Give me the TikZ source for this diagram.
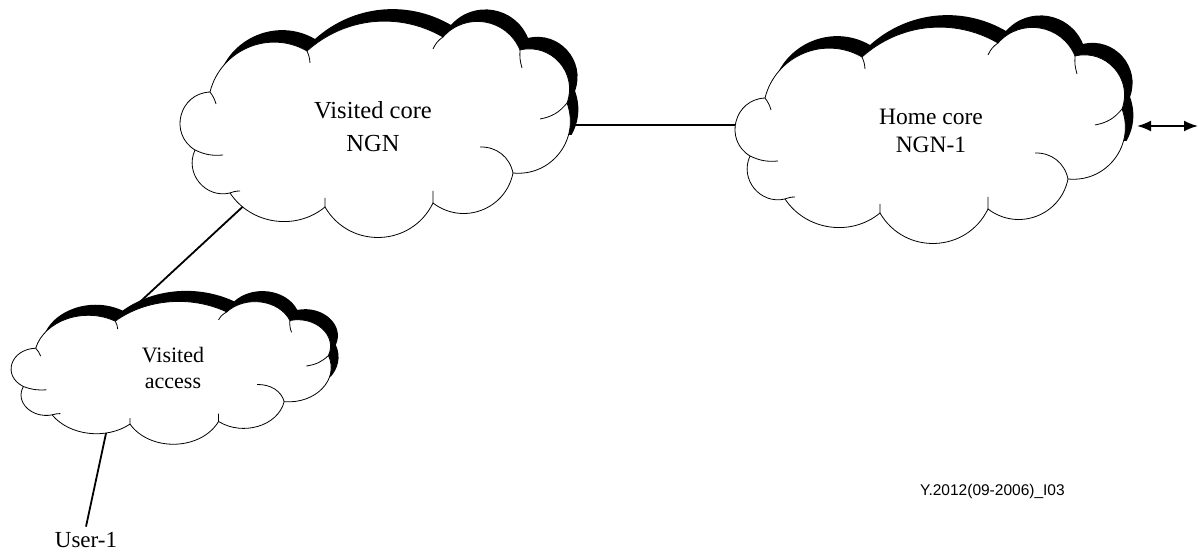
\documentclass[tikz,border=0pt]{standalone}
\usepackage{fontspec}
\setmainfont{Liberation Serif}
\newfontfamily\figsans{Liberation Sans}
\usetikzlibrary{arrows.meta}
\pgfdeclarelayer{background}
\pgfsetlayers{background,main}

% Cloud outline in a local frame (y up), traversed counter-clockwise;
% every puff is close to a circular arc bulging outward.
\newcommand\cloudoutline{(-165,33) to[bend right=73,looseness=1.32] (-180,-25)
  to[bend right=64,looseness=1.18] (-145,-68) to[bend right=48,looseness=1.01] (-50,-82)
  to[bend right=62,looseness=1.16] (58,-78) to[bend right=58,looseness=1.12] (138,-48)
  to[bend right=58,looseness=1.12] (192,22) to[bend right=62,looseness=1.16] (145,75)
  to[bend right=58,looseness=1.12] (68,88) to[bend right=36,looseness=0.95] (-68,74)
  to[bend right=53,looseness=1.06] (-165,33) -- cycle}
% Short inner strokes where neighbouring puffs overlap
\newcommand\cloudcreases{(-165,33) to[bend left=10] (-159,21)
  (-180,-25) to[bend right=15] (-152,-30)
  (-145,-68) to[bend left=10] (-135,-66)
  (-50,-82) -- (-50,-73)
  (58,-78) -- (58,-66)
  (138,-48) to[bend right=40] (105,-22)
  (192,22) to[bend left=20] (165,6)
  (145,75) to[bend right=10] (147,57)
  (68,88) to[bend right=15] (58,76)
  (-68,74) to[bend left=10] (-65,62)}
% The drop shadow only shows along the top and the upper right
\newcommand\shadowregion{(-152,-10) -- (-152,45) -- (-260,130) -- (320,130) -- (320,-10) -- cycle}

\tikzset{
  cloudshadow/.style={fill=black},
  cloudbody/.style={fill=white, draw=black, line width=0.8pt},
  crease/.style={draw=black, line width=0.8pt},
  link/.style={draw=black, line width=1.8pt},
  cloudtext/.style={align=center, inner sep=0pt, text=black},
}

\begin{document}
\begin{tikzpicture}[x=1pt, y=1pt]
\useasboundingbox (0,0) rectangle (1198,551);

% Visited core NGN
\begin{scope}[shift={(375,426)}]
  \begin{scope}
    \clip \shadowregion;
    \fill[cloudshadow, shift={(8,12)}] \cloudoutline;
  \end{scope}
  \path[cloudbody] \cloudoutline;
  \path[crease] \cloudcreases;
  \coordinate (vc-e) at (190,0);
  \coordinate (vc-sw) at (-125,-75);
\end{scope}

% Home core NGN-1
\begin{scope}[shift={(930,420)}]
  \begin{scope}
    \clip \shadowregion;
    \fill[cloudshadow, shift={(8,12)}] \cloudoutline;
  \end{scope}
  \path[cloudbody] \cloudoutline;
  \path[crease] \cloudcreases;
  \coordinate (hc-w) at (-190,6);
\end{scope}

% Visited access
\begin{scope}[shift={(171,181)}, xscale=0.82, yscale=0.66]
  \begin{scope}
    \clip \shadowregion;
    \fill[cloudshadow, shift={(9,16)}] \cloudoutline;
  \end{scope}
  \path[cloudbody] \cloudoutline;
  \path[crease] \cloudcreases;
  \coordinate (va-n) at (-38,103);
  \coordinate (va-s) at (-77,-83);
\end{scope}

% Labels
\node[cloudtext, font=\fontsize{24.5}{33}\selectfont] (vc) at (373,424) {Visited core\\NGN};
\node[cloudtext, font=\fontsize{23.5}{27.5}\selectfont] (hc) at (931,420) {Home core\\NGN-1};
\node[cloudtext, font=\fontsize{22}{26}\selectfont] (va) at (173,183) {Visited\\access};
\node[anchor=base, inner sep=5pt, font=\fontsize{23}{27}\selectfont] (user) at (86,4) {User-1};
\node[anchor=base west, inner sep=0pt, font=\figsans\fontsize{15.5}{18}\selectfont] (ref) at (920,56) {Y.2012(09-2006)\_I03};

% Double-headed interface arrow
\coordinate (ext-l) at (1137,425);
\coordinate (ext-r) at (1198,425);
\draw[link, line width=2pt, {Latex[length=14pt,width=11pt]}-{Latex[length=14pt,width=11pt]}] (ext-l) -- (ext-r);

% Connectors behind the clouds
\begin{pgfonlayer}{background}
  \draw[link] (vc-e) -- (hc-w);
  \draw[link] (vc-sw) -- (va-n);
  \draw[link] (va-s) -- (user.north);
\end{pgfonlayer}
\end{tikzpicture}
\end{document}
